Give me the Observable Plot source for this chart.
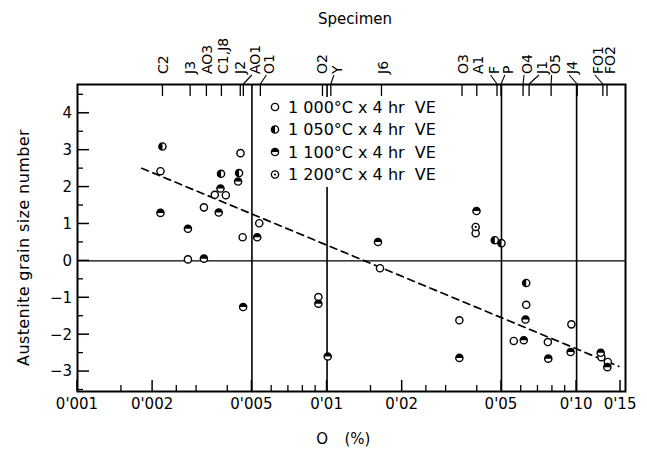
<!DOCTYPE html>
<html><head><meta charset="utf-8">
<script src="https://cdn.jsdelivr.net/npm/d3@7"></script>
<script src="https://cdn.jsdelivr.net/npm/@observablehq/plot@0.6"></script>
<style>
body{margin:0;background:#fff;}
#chart{width:647px;height:450px;}
</style></head><body><div id="chart"></div>
<script>
// ---------- data (O % vs austenite grain size number) ----------
const s1000 = [
  {o:0.00450,g:2.92},{o:0.00215,g:2.43},{o:0.00355,g:1.79},{o:0.00393,g:1.78},
  {o:0.00321,g:1.45},{o:0.00535,g:1.02},{o:0.00459,g:0.64},{o:0.00277,g:0.04},
  {o:0.00923,g:-0.98},{o:0.0163,g:-0.20},{o:0.0394,g:0.75},{o:0.0628,g:-1.19},
  {o:0.0339,g:-1.61},{o:0.0953,g:-1.72},{o:0.0560,g:-2.17},{o:0.0767,g:-2.20},
  {o:0.1257,g:-2.61},{o:0.1334,g:-2.74}
];
const s1050 = [
  {o:0.00219,g:3.10},{o:0.00376,g:2.36},{o:0.00444,g:2.38},
  {o:0.0470,g:0.56},{o:0.0500,g:0.48},{o:0.0628,g:-0.60}
];
const s1100 = [
  {o:0.00440,g:2.15},{o:0.00374,g:1.96},{o:0.00368,g:1.31},{o:0.00215,g:1.30},
  {o:0.00277,g:0.87},{o:0.00525,g:0.64},{o:0.00321,g:0.06},{o:0.00461,g:-1.25},
  {o:0.00923,g:-1.16},{o:0.01006,g:-2.59},{o:0.0160,g:0.51},{o:0.0397,g:1.35},
  {o:0.0624,g:-1.59},{o:0.0614,g:-2.15},{o:0.0770,g:-2.65},{o:0.0946,g:-2.47},
  {o:0.0339,g:-2.63},{o:0.1249,g:-2.49},{o:0.1328,g:-2.88}
];
const s1200 = [{o:0.0394,g:0.92}];
const fitLine = [{o:0.00181,g:2.51},{o:0.1475,g:-2.86}];

const legendLabels = ["1 000°C x 4 hr  VE","1 050°C x 4 hr  VE","1 100°C x 4 hr  VE","1 200°C x 4 hr  VE"];

const specimenNames = ["C2","J3","AO3","C1,J8","J2","AO1","O1","O2","Y","J6","O3","A1","F","P","O4","J1","O5","J4","FO1","FO2"];
const specimenTick  = [0.00220,0.00284,0.00330,0.00379,0.00451,0.00464,0.00543,0.00963,0.0104,0.0166,0.0349,0.0400,0.0482,0.0500,0.0613,0.0648,0.0794,0.101,0.128,0.133];
const specimenLabelAt = [0.00220,0.00284,0.00333,0.00383,0.00448,0.00516,0.00590,0.00955,0.0110,0.0168,0.0351,0.0404,0.0467,0.0533,0.0636,0.0730,0.0820,0.0964,0.1222,0.1366];

const xMajor = [0.001,0.002,0.005,0.01,0.02,0.05,0.10,0.15];
const xMajorLabels = ["0'001","0'002","0'005","0'01","0'02","0'05","0'10","0'15"];
const xMinor = [0.0015,0.0025,0.003,0.004,0.006,0.007,0.008,0.009,0.015,0.025,0.03,0.04,0.06,0.07,0.08,0.09];
const xGrid = [0.005,0.01,0.05,0.10];
const yMajor = [-3,-2,-1,0,1,2,3,4];
const yMajorLabels = ["−3","−2","−1","0","1","2","3","4"];
const yMinor = [-3.5,-2.5,-1.5,-0.5,0.5,1.5,2.5,3.5,4.5];

// ---------- symbols ----------
const leftHalf = {draw(ctx, size){const r=Math.sqrt(size/Math.PI); ctx.moveTo(0,-r); ctx.arc(0,0,r,-Math.PI/2,Math.PI/2,true); ctx.closePath();}};
const topHalf  = {draw(ctx, size){const r=Math.sqrt(size/Math.PI); ctx.moveTo(-r,0); ctx.arc(0,0,r,Math.PI,2*Math.PI,false); ctx.closePath();}};

const FONT = "DejaVu Sans";
const R = 3.6;
const openStyle = {r:R, fill:"white", stroke:"black", strokeWidth:1.4};

function legendMark(index, scales, values, dim) {
  const L = dim.marginLeft, T = dim.marginTop;
  const g = d3.create("svg:g");
  g.append("rect").attr("x", L+186).attr("y", T+13).attr("width", 190).attr("height", 90).attr("fill","white");
  const kinds = [null, leftHalf, topHalf, "dot"];
  legendLabels.forEach((lab, i) => {
    const cx = L+198, cy = T+23+i*22.5;
    g.append("circle").attr("cx",cx).attr("cy",cy).attr("r",R).attr("fill","white").attr("stroke","black").attr("stroke-width",1.4);
    const k = kinds[i];
    if (k === "dot") g.append("circle").attr("cx",cx).attr("cy",cy).attr("r",1.1).attr("fill","black");
    else if (k) { const p = d3.path(); k.draw(p, R*R*Math.PI); g.append("path").attr("d", p.toString()).attr("transform",`translate(${cx},${cy})`).attr("fill","black"); }
    g.append("text").attr("x", cx+13).attr("y", cy).attr("dy","0.36em").attr("text-anchor","start")
      .attr("font-family",FONT).attr("font-size",16).attr("fill","black")
      .style("white-space","pre").text(lab);
  });
  return g.node();
}

function axesMark(index, scales, values, dim) {
  const {x, y} = scales;
  const L = dim.marginLeft, Rt = dim.width - dim.marginRight, T = dim.marginTop, B = dim.height - dim.marginBottom;
  const g = d3.create("svg:g").attr("font-family", FONT).attr("fill","black");
  const line = (x1,y1,x2,y2,w) => g.append("line").attr("x1",x1).attr("y1",y1).attr("x2",x2).attr("y2",y2).attr("stroke","black").attr("stroke-width",w);
  // bottom ticks
  xMinor.forEach(v => line(x(v),B,x(v),B-6,1.3));
  xMajor.forEach(v => line(x(v),B,x(v),B-11,1.5));
  xMajor.forEach((v,i) => g.append("text").attr("x",x(v)).attr("y",B+18).attr("text-anchor","middle").attr("font-size",15).text(xMajorLabels[i]));
  // left ticks
  yMinor.forEach(v => line(L,y(v),L+6,y(v),1.3));
  yMajor.forEach(v => line(L,y(v),L+12,y(v),1.5));
  yMajor.forEach((v,i) => g.append("text").attr("x",L-5).attr("y",y(v)).attr("dy","0.36em").attr("text-anchor","end").attr("font-size",15).text(yMajorLabels[i]));
  // top specimen axis
  specimenTick.forEach(v => line(x(v),T,x(v),T+12,1.3));
  specimenNames.forEach((name,i) => {
    const lx = x(specimenLabelAt[i]), tx = x(specimenTick[i]);
    g.append("text").attr("transform",`translate(${lx},${T-10}) rotate(-90)`).attr("dy","0.36em")
      .attr("text-anchor","start").attr("font-size",14).text(name);
    if (Math.abs(lx-tx) > 3) line(lx-3,T-9,tx,T,1.1);
  });
  // titles
  g.append("text").attr("x",(L+Rt)/2+4).attr("y",24).attr("text-anchor","middle").attr("font-size",15).text("Specimen");
  g.append("text").attr("transform",`translate(29,${(T+B)/2+10}) rotate(-90)`).attr("text-anchor","middle").attr("font-size",16).attr("letter-spacing",0.4).text("Austenite grain size number");
  g.append("text").attr("x",x(0.0096)).attr("y",B+53).attr("text-anchor","middle").attr("font-size",15).text("O");
  g.append("text").attr("x",x(0.0133)).attr("y",B+53).attr("text-anchor","middle").attr("font-size",15).text("(%)");
  return g.node();
}

const chart = Plot.plot({
  width: 647, height: 450,
  marginLeft: 77, marginRight: 22, marginTop: 84, marginBottom: 59,
  x: {type: "log", domain: [0.001, 0.157], axis: null},
  y: {domain: [-3.54, 4.78], axis: null},
  style: {fontFamily: FONT, background: "white", color: "black"},
  marks: [
    Plot.ruleY([0], {stroke:"black", strokeWidth:1.4}),
    Plot.ruleX(xGrid, {stroke:"black", strokeWidth:1.6}),
    Plot.line(fitLine, {x:"o", y:"g", stroke:"black", strokeWidth:1.7, strokeDasharray:"7,5"}),
    legendMark,
    Plot.dot(s1000, {x:"o", y:"g", ...openStyle}),
    Plot.dot(s1050, {x:"o", y:"g", ...openStyle}),
    Plot.dot(s1050, {x:"o", y:"g", r:R, symbol:leftHalf, fill:"black", stroke:"none"}),
    Plot.dot(s1100, {x:"o", y:"g", ...openStyle}),
    Plot.dot(s1100, {x:"o", y:"g", r:R, symbol:topHalf, fill:"black", stroke:"none"}),
    Plot.dot(s1200, {x:"o", y:"g", ...openStyle}),
    Plot.dot(s1200, {x:"o", y:"g", r:1.1, fill:"black"}),
    axesMark,
    Plot.frame({stroke:"black", strokeWidth:2})
  ]
});
document.getElementById("chart").append(chart);
</script>
</body></html>
